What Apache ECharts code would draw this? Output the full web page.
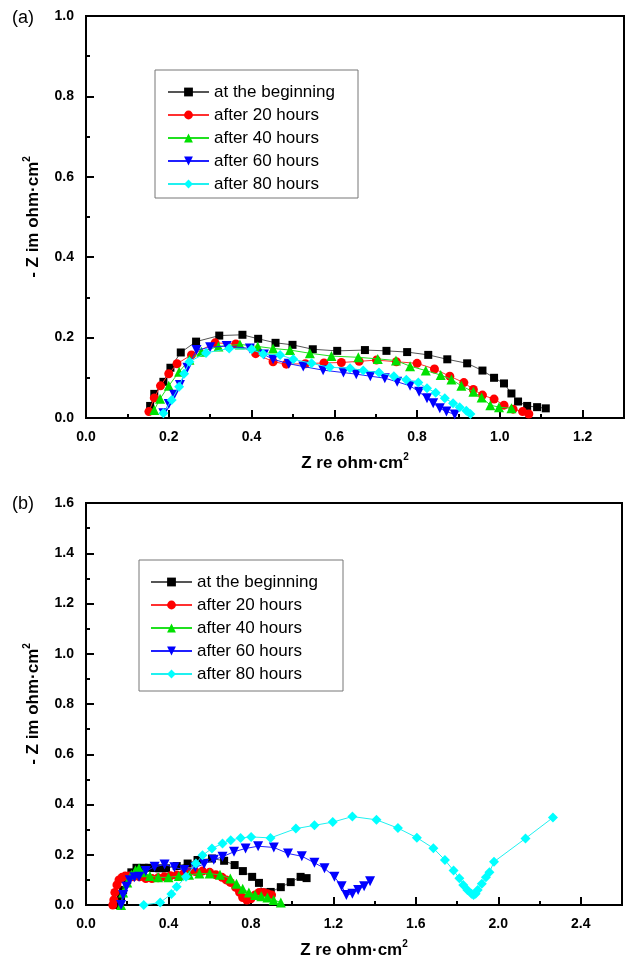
<!DOCTYPE html>
<html><head><meta charset="utf-8">
<script src="https://cdn.jsdelivr.net/npm/echarts@6/dist/echarts.min.js"></script>
<style>html,body{margin:0;padding:0;background:#fff}#c{width:627px;height:964px}</style>
</head><body><div id="c"></div>
<script>
// ---------- data ----------
const seriesNames = ['at the beginning','after 20 hours','after 40 hours','after 60 hours','after 80 hours'];
const panelLabels = ['(a)','(b)'];
const xTitle = 'Z re ohm·cm';
const yTitle = '- Z im ohm·cm';

// panel (a)
const aX0 = [0.155,0.165,0.187,0.204,0.229,0.266,0.322,0.378,0.416,0.458,0.499,0.548,0.607,0.674,0.726,0.776,0.827,0.873,0.921,0.958,0.986,1.01,1.028,1.044,1.066,1.09,1.111];
const aY0 = [0.03,0.06,0.09,0.125,0.163,0.19,0.205,0.207,0.197,0.187,0.182,0.171,0.167,0.169,0.167,0.164,0.157,0.146,0.136,0.118,0.1,0.086,0.061,0.041,0.03,0.027,0.024];
const aX20 = [0.152,0.165,0.18,0.2,0.22,0.255,0.312,0.362,0.41,0.452,0.484,0.53,0.575,0.617,0.66,0.702,0.75,0.8,0.842,0.879,0.913,0.936,0.958,0.986,1.01,1.032,1.055,1.07];
const aY20 = [0.016,0.05,0.08,0.11,0.135,0.157,0.187,0.184,0.16,0.14,0.134,0.135,0.137,0.138,0.141,0.144,0.14,0.136,0.122,0.104,0.088,0.071,0.057,0.047,0.032,0.022,0.016,0.01];
const aX40 = [0.165,0.179,0.2,0.225,0.25,0.279,0.32,0.372,0.415,0.452,0.493,0.541,0.593,0.658,0.705,0.749,0.783,0.821,0.857,0.883,0.907,0.936,0.956,0.977,0.998,1.028];
const aY40 = [0.02,0.048,0.08,0.115,0.145,0.165,0.178,0.183,0.178,0.173,0.169,0.161,0.154,0.151,0.147,0.143,0.129,0.118,0.107,0.096,0.08,0.065,0.051,0.032,0.027,0.024];
const aX60 = [0.187,0.2,0.213,0.227,0.245,0.267,0.3,0.34,0.396,0.43,0.452,0.49,0.525,0.573,0.622,0.653,0.687,0.722,0.752,0.783,0.805,0.824,0.839,0.855,0.871,0.891];
const aY60 = [0.012,0.035,0.058,0.082,0.125,0.169,0.176,0.179,0.173,0.158,0.146,0.135,0.128,0.119,0.113,0.109,0.104,0.099,0.09,0.08,0.065,0.049,0.037,0.024,0.016,0.009];
const aX80 = [0.187,0.207,0.225,0.237,0.25,0.29,0.346,0.4,0.428,0.469,0.501,0.545,0.589,0.638,0.67,0.708,0.744,0.774,0.803,0.824,0.845,0.867,0.887,0.903,0.919,0.929];
const aY80 = [0.012,0.045,0.078,0.11,0.14,0.162,0.173,0.171,0.159,0.157,0.146,0.136,0.126,0.124,0.118,0.113,0.104,0.095,0.088,0.074,0.063,0.049,0.037,0.027,0.018,0.01];

// panel (b)
const bX0 = [0.16,0.17,0.18,0.2,0.22,0.245,0.28,0.305,0.33,0.356,0.388,0.44,0.493,0.541,0.611,0.67,0.721,0.761,0.806,0.839,0.86,0.896,0.945,0.993,1.041,1.07];
const bY0 = [0.0,0.03,0.06,0.1,0.13,0.148,0.148,0.148,0.147,0.146,0.146,0.155,0.165,0.179,0.185,0.176,0.159,0.135,0.112,0.088,0.05,0.052,0.071,0.091,0.112,0.107];
const bX20 = [0.13,0.135,0.14,0.15,0.16,0.175,0.19,0.21,0.23,0.26,0.29,0.32,0.35,0.38,0.41,0.44,0.47,0.5,0.53,0.565,0.6,0.63,0.66,0.68,0.7,0.726,0.745,0.76,0.78,0.8,0.82,0.84,0.86,0.88,0.9];
const bY20 = [0.0,0.02,0.05,0.08,0.1,0.11,0.115,0.115,0.112,0.112,0.105,0.105,0.108,0.112,0.116,0.119,0.122,0.13,0.133,0.135,0.13,0.12,0.11,0.1,0.09,0.07,0.05,0.03,0.02,0.025,0.04,0.05,0.05,0.045,0.04];
const bX40 = [0.17,0.18,0.2,0.22,0.24,0.257,0.28,0.31,0.35,0.4,0.45,0.5,0.55,0.6,0.65,0.7,0.73,0.76,0.79,0.82,0.85,0.88,0.91,0.945];
const bY40 = [0.0,0.05,0.09,0.12,0.138,0.146,0.13,0.115,0.11,0.11,0.115,0.12,0.125,0.125,0.12,0.105,0.085,0.065,0.05,0.04,0.035,0.03,0.02,0.01];
const bX60 = [0.17,0.18,0.196,0.212,0.235,0.257,0.29,0.333,0.381,0.429,0.477,0.53,0.573,0.62,0.662,0.718,0.774,0.835,0.911,0.98,1.047,1.108,1.157,1.205,1.24,1.263,1.292,1.32,1.349,1.378];
const bY60 = [0.0,0.04,0.073,0.099,0.11,0.112,0.135,0.152,0.161,0.15,0.139,0.15,0.163,0.18,0.192,0.212,0.225,0.234,0.229,0.205,0.194,0.168,0.146,0.112,0.075,0.04,0.045,0.06,0.075,0.095];
const bX80 = [0.28,0.36,0.414,0.44,0.485,0.533,0.565,0.611,0.662,0.702,0.75,0.801,0.895,1.018,1.108,1.197,1.292,1.409,1.513,1.605,1.685,1.741,1.783,1.811,1.83,1.85,1.87,1.88,1.89,1.9,1.92,1.94,1.957,1.979,2.132,2.265];
const bY80 = [0.0,0.01,0.044,0.073,0.112,0.165,0.198,0.225,0.245,0.258,0.267,0.271,0.267,0.304,0.317,0.33,0.352,0.339,0.306,0.268,0.226,0.179,0.137,0.106,0.08,0.06,0.045,0.04,0.045,0.06,0.085,0.11,0.13,0.172,0.265,0.348];

const aXs=[aX0,aX20,aX40,aX60,aX80], aYs=[aY0,aY20,aY40,aY60,aY80];
const bXs=[bX0,bX20,bX40,bX60,bX80], bYs=[bY0,bY20,bY40,bY60,bY80];

// ---------- styles ----------
const colors = ['#000000','#ff0000','#00e000','#0000ff','#00ffff'];
const lineColors = ['#555555','#ff3030','#20e020','#2020ff','#20f0f0'];
const symbols = ['rect','circle','triangle','triangle','diamond'];
const symRot = [0,0,0,180,0];
const symSizes = [8,9,10,10,10];
const FONT = '"Liberation Sans", Arial, sans-serif';

function zip(xs, ys){ return xs.map((x,i)=>[x, ys[i]]); }

function xAxisCfg(gi, max, interval){
  return {
    gridIndex: gi, type:'value', min:0, max:max, interval:interval,
    name: '{a|'+xTitle+'}{s|2}', nameLocation:'middle', nameGap:34,
    nameTextStyle:{rich:{a:{fontFamily:FONT,fontSize:17,fontWeight:'bold',color:'#000',lineHeight:20,verticalAlign:'bottom'},
                         s:{fontFamily:FONT,fontSize:10,fontWeight:'bold',color:'#000',verticalAlign:'top',lineHeight:12}}},
    axisLine:{show:true,onZero:false,lineStyle:{color:'#000',width:2}},
    axisTick:{show:true,inside:true,length:8,lineStyle:{color:'#000',width:2}},
    minorTick:{show:true,splitNumber:2,length:4,lineStyle:{color:'#000',width:2}},
    axisLabel:{color:'#000',fontFamily:FONT,fontSize:14,fontWeight:'bold',margin:12,showMaxLabel:false,
      formatter:v=>v.toFixed(1)},
    splitLine:{show:false}
  };
}
function yAxisCfg(gi, max, interval){
  return {
    gridIndex: gi, type:'value', min:0, max:max, interval:interval,
    name: '{a|'+yTitle+'}{s|2}', nameLocation:'middle', nameGap:44, nameRotate:90,
    nameTextStyle:{rich:{a:{fontFamily:FONT,fontSize:17,fontWeight:'bold',color:'#000',lineHeight:20,verticalAlign:'bottom'},
                         s:{fontFamily:FONT,fontSize:10,fontWeight:'bold',color:'#000',verticalAlign:'top',lineHeight:12}}},
    axisLine:{show:true,onZero:false,lineStyle:{color:'#000',width:2}},
    axisTick:{show:true,inside:true,length:8,lineStyle:{color:'#000',width:2}},
    minorTick:{show:true,splitNumber:2,length:4,lineStyle:{color:'#000',width:2}},
    axisLabel:{color:'#000',fontFamily:FONT,fontSize:14,fontWeight:'bold',margin:12,
      formatter:v=>v.toFixed(1)},
    splitLine:{show:false}
  };
}

const series = [];
[ [aXs,aYs,0], [bXs,bYs,1] ].forEach(([xs,ys,gi])=>{
  seriesNames.forEach((nm,i)=>{
    series.push({
      type:'line', name:nm, xAxisIndex:gi, yAxisIndex:gi,
      data: zip(xs[i], ys[i]),
      symbol: symbols[i], symbolRotate: symRot[i], symbolSize: symSizes[i],
      showAllSymbol:true,
      itemStyle:{color:colors[i]},
      lineStyle:{color:lineColors[i], width:1},
      animation:false, z: 2+i
    });
  });
});

function legendCfg(left, top){
  return {
    orient:'vertical', left:left, top:top, data:seriesNames,
    itemWidth:41, itemHeight:11, itemGap:3, padding:0,
    textStyle:{fontFamily:FONT,fontSize:17,color:'#000',lineHeight:20},
    selectedMode:false
  };
}

const option = {
  animation:false,
  backgroundColor:'#fff',
  grid:[
    {left:86, top:16, width:538, height:402, show:true, borderColor:'#000', borderWidth:2, backgroundColor:'transparent'},
    {left:86, top:503, width:536, height:402, show:true, borderColor:'#000', borderWidth:2, backgroundColor:'transparent'}
  ],
  xAxis:[ xAxisCfg(0,1.3,0.2), xAxisCfg(1,2.6,0.4) ],
  yAxis:[ yAxisCfg(0,1.0,0.2), yAxisCfg(1,1.6,0.2) ],
  legend:[ legendCfg(167,82), legendCfg(150,572) ],
  graphic:[
    {type:'rect', shape:{x:155,y:70,width:203,height:128}, style:{fill:'none',stroke:'#777',lineWidth:1}, z:1},
    {type:'rect', shape:{x:139,y:560,width:204,height:131}, style:{fill:'none',stroke:'#777',lineWidth:1}, z:1},
    {type:'text', left:12, top:9, style:{text:panelLabels[0], font:'18px '+FONT, fill:'#000'}},
    {type:'text', left:12, top:495, style:{text:panelLabels[1], font:'18px '+FONT, fill:'#000'}}
  ],
  series: series
};
const chart = echarts.init(document.getElementById('c'), null, {renderer:'canvas'});
chart.setOption(option);
</script></body></html>
